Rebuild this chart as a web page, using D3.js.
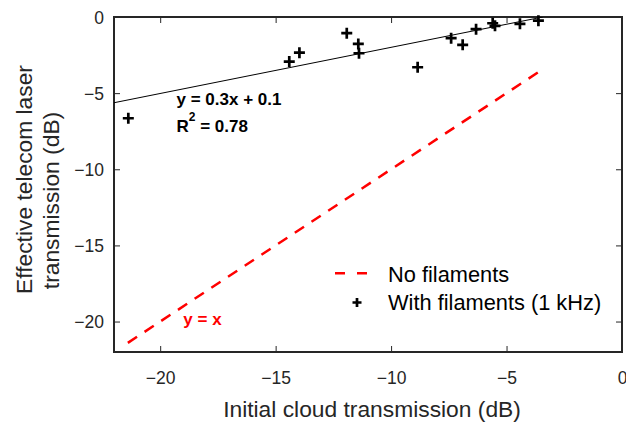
<!DOCTYPE html>
<html>
    <head>
        <meta charset="utf-8">
        <title>Telecom laser transmission</title>
        <script src="https://d3js.org/d3.v7.min.js"></script>
        <style>
            body {
                margin: 0;
                background: #fff;
            }
            text {
                font-family: 'Liberation Sans', Arial, sans-serif;
            }
            .tick text {
                font-size: 17.5px;
                fill: #262626;
            }
            .tick line {
                stroke: #262626;
                stroke-width: 1px;
            }
        </style>
    </head>
    <body>
        <div id="chart"></div>
        <script>
            // values
            const initialDb = [-21.38, -14.41, -13.97, -11.92, -11.42, -11.39, -8.85, -7.4, -6.9, -6.32, -5.6, -5.5, -4.42, -3.62];
            const effectiveDb = [-6.65, -2.93, -2.34, -1.06, -1.77, -2.38, -3.3, -1.39, -1.83, -0.8, -0.41, -0.58, -0.45, -0.24];
            const fitX = [-22, -3.43];
            const fitY = [-5.63, 0];
            const noFilamentX = [-21.4, -3.6];
            const noFilamentY = [-21.4, -3.6];
            const xTicks = [-20, -15, -10, -5, 0];
            const yTicks = [-20, -15, -10, -5, 0];

            const svgWidth = 626,
                svgHeight = 424;
            const margin = { top: 17, right: 4, bottom: 72, left: 114 };

            const svg = d3
                .select('#chart')
                .append('svg')
                .attr('width', svgWidth)
                .attr('height', svgHeight);

            const x = d3
                .scaleLinear()
                .domain([-22, 0])
                .range([margin.left, svgWidth - margin.right]);
            const y = d3
                .scaleLinear()
                .domain([-22, 0])
                .range([svgHeight - margin.bottom, margin.top]);

            svg.append('defs')
                .append('clipPath')
                .attr('id', 'plot-clip')
                .append('rect')
                .attr('x', x(-22))
                .attr('y', y(0))
                .attr('width', x(0) - x(-22))
                .attr('height', y(-22) - y(0));

            // axes, ticks pointing inward on all four sides
            svg.append('g')
                .attr('transform', 'translate(0,' + y(-22) + ')')
                .call(d3.axisBottom(x).tickValues(xTicks).tickSize(-6).tickPadding(20));
            const left = svg
                .append('g')
                .attr('transform', 'translate(' + x(-22) + ',0)')
                .call(d3.axisLeft(y).tickValues(yTicks).tickSize(-6).tickPadding(10));
            svg.append('g')
                .attr('transform', 'translate(0,' + y(0) + ')')
                .call(d3.axisTop(x).tickValues(xTicks).tickSize(-6).tickFormat(''));
            svg.append('g')
                .attr('transform', 'translate(' + x(0) + ',0)')
                .call(d3.axisRight(y).tickValues(yTicks).tickSize(-6).tickFormat(''));
            svg.selectAll('.domain').remove();
            left.selectAll('.tick text').attr('dy', '0.36em');

            svg.append('rect')
                .attr('x', x(-22))
                .attr('y', y(0))
                .attr('width', x(0) - x(-22))
                .attr('height', y(-22) - y(0))
                .attr('fill', 'none')
                .attr('stroke', '#262626')
                .attr('stroke-width', 2);

            const plot = svg.append('g').attr('clip-path', 'url(#plot-clip)');

            // linear fit
            plot.append('line')
                .attr('x1', x(fitX[0]))
                .attr('y1', y(fitY[0]))
                .attr('x2', x(fitX[1]))
                .attr('y2', y(fitY[1]))
                .attr('stroke', 'black')
                .attr('stroke-width', 1);

            // y = x reference
            plot.append('line')
                .attr('x1', x(noFilamentX[0]))
                .attr('y1', y(noFilamentY[0]))
                .attr('x2', x(noFilamentX[1]))
                .attr('y2', y(noFilamentY[1]))
                .attr('stroke', 'red')
                .attr('stroke-width', 2.5)
                .attr('stroke-dasharray', '11,9');

            const plus = (r) => 'M' + -r + ',0H' + r + 'M0,' + -r + 'V' + r;

            svg.selectAll('.marker')
                .data(initialDb)
                .enter()
                .append('path')
                .attr('class', 'marker')
                .attr('transform', (d, i) => 'translate(' + x(d) + ',' + y(effectiveDb[i]) + ')')
                .attr('d', plus(5.5))
                .attr('stroke', 'black')
                .attr('stroke-width', 2.7)
                .attr('fill', 'none');

            // annotations
            svg.append('text')
                .attr('x', 176.5)
                .attr('y', 104.5)
                .attr('font-size', 17)
                .attr('font-weight', 'bold')
                .text('y = 0.3x + 0.1');
            const r2 = svg
                .append('text')
                .attr('x', 176.5)
                .attr('y', 131.7)
                .attr('font-size', 17)
                .attr('font-weight', 'bold');
            r2.append('tspan').text('R');
            r2.append('tspan').attr('dy', -11).attr('font-size', 12).text('2');
            r2.append('tspan').attr('dy', 11).text(' = 0.78');

            svg.append('text')
                .attr('x', 183.3)
                .attr('y', 325)
                .attr('font-size', 17)
                .attr('font-weight', 'bold')
                .attr('fill', 'red')
                .text('y = x');

            // legend
            const legend = svg.append('g');
            legend
                .append('line')
                .attr('x1', 335)
                .attr('x2', 367)
                .attr('y1', 273.3)
                .attr('y2', 273.3)
                .attr('stroke', 'red')
                .attr('stroke-width', 2.5)
                .attr('stroke-dasharray', '10,12');
            legend
                .append('text')
                .attr('x', 388)
                .attr('y', 281.7)
                .attr('font-size', 21.8)
                .text('No filaments');
            legend
                .append('path')
                .attr('transform', 'translate(357,302.5)')
                .attr('d', plus(4.5))
                .attr('stroke', 'black')
                .attr('stroke-width', 2.7);
            legend
                .append('text')
                .attr('x', 388)
                .attr('y', 309.5)
                .attr('font-size', 21.8)
                .text('With filaments (1 kHz)');

            // axis titles
            svg.append('text')
                .attr('x', (x(-22) + x(0)) / 2 + 4)
                .attr('y', 416.7)
                .attr('text-anchor', 'middle')
                .attr('font-size', 22.8)
                .attr('fill', '#262626')
                .text('Initial cloud transmission (dB)');

            const yTitle = svg
                .append('text')
                .attr('transform', 'translate(32,' + (y(0) + y(-22)) / 2 + ') rotate(-90)')
                .attr('text-anchor', 'middle')
                .attr('font-size', 22.8)
                .attr('fill', '#262626');
            yTitle.append('tspan').attr('x', 5).attr('y', 0).text('Effective telecom laser');
            yTitle.append('tspan').attr('x', -16).attr('y', 27).text('transmission (dB)');
        </script>
    </body>
</html>
